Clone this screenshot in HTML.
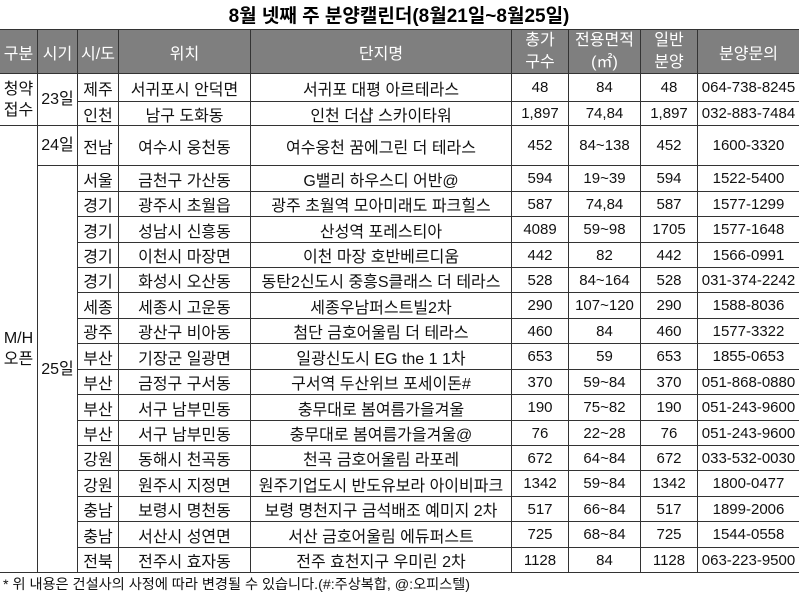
<!DOCTYPE html>
<html><head><meta charset="utf-8">
<style>
body{margin:0;background:#fff;}
#w{position:relative;width:800px;height:598px;overflow:hidden;background:#fff;font-family:"Liberation Sans","Noto Sans CJK KR",sans-serif;font-size:15px;color:#111;}
.t{position:absolute;left:0;top:0;width:798px;height:29px;display:flex;align-items:center;justify-content:center;font-weight:bold;font-size:19px;color:#000;white-space:nowrap;}
.hd{position:absolute;left:0;top:30px;width:799px;height:43px;background:#7f7f7f;color:#fff;font-size:16px;}
.r{position:absolute;left:0;width:800px;}
.r>div,.hd>div,.m{position:absolute;top:0;bottom:0;display:flex;align-items:center;justify-content:center;white-space:nowrap;text-align:center;}
.a{left:0;width:37px}
.b{left:38px;width:39px}
.c{left:78px;width:40px}
.d{left:119px;width:131px}
.e{left:251px;width:260px}
.f{left:512px;width:56px}
.g{left:569px;width:71px}
.h{left:641px;width:56px}
.i{left:698px;width:101px}
.r>.a,.r>.b,.r>.c,.r>.d,.r>.e,.m{font-size:16px}
.two{line-height:22px}
.m{line-height:21px}
.hl{position:absolute;height:1px;background:#333;}
.vl{position:absolute;width:1px;background:#333;top:29px;height:544px;}
.ft{position:absolute;left:3px;top:574px;height:20px;display:flex;align-items:center;font-size:14.2px;color:#111;white-space:nowrap;}
</style></head><body>
<div id="w">
<div class="t">8월 넷째 주 분양캘린더(8월21일~8월25일)</div>

<div class="hd">
<div class="a">구분</div><div class="b">시기</div><div class="c">시/도</div><div class="d">위치</div><div class="e">단지명</div>
<div class="f two">총가<br>구수</div><div class="g two">전용면적<br>(㎡)</div><div class="h two">일반<br>분양</div><div class="i">분양문의</div>
</div>

<div class="m a" style="top:74px;height:51px;bottom:auto;">청약<br>접수</div>
<div class="m b" style="top:74px;height:51px;bottom:auto;">23일</div>
<div class="m a" style="top:126px;height:446px;bottom:auto;">M/H<br>오픈</div>
<div class="m b" style="top:126px;height:39px;bottom:auto;">24일</div>
<div class="m b" style="top:166px;height:406px;bottom:auto;">25일</div>

<div class="r" style="top:74px;height:27px"><div class="c">제주</div><div class="d">서귀포시 안덕면</div><div class="e">서귀포 대평 아르테라스</div><div class="f">48</div><div class="g">84</div><div class="h">48</div><div class="i">064-738-8245</div></div>
<div class="r" style="top:102px;height:23px"><div class="c">인천</div><div class="d">남구 도화동</div><div class="e">인천 더샵 스카이타워</div><div class="f">1,897</div><div class="g">74,84</div><div class="h">1,897</div><div class="i">032-883-7484</div></div>
<div class="r" style="top:126px;height:39px"><div class="c">전남</div><div class="d">여수시 웅천동</div><div class="e">여수웅천 꿈에그린 더 테라스</div><div class="f">452</div><div class="g">84~138</div><div class="h">452</div><div class="i">1600-3320</div></div>
<div class="r" style="top:166px;height:25px"><div class="c">서울</div><div class="d">금천구 가산동</div><div class="e">G밸리 하우스디 어반@</div><div class="f">594</div><div class="g">19~39</div><div class="h">594</div><div class="i">1522-5400</div></div>
<div class="r" style="top:192px;height:24px"><div class="c">경기</div><div class="d">광주시 초월읍</div><div class="e">광주 초월역 모아미래도 파크힐스</div><div class="f">587</div><div class="g">74,84</div><div class="h">587</div><div class="i">1577-1299</div></div>
<div class="r" style="top:217px;height:25px"><div class="c">경기</div><div class="d">성남시 신흥동</div><div class="e">산성역 포레스티아</div><div class="f">4089</div><div class="g">59~98</div><div class="h">1705</div><div class="i">1577-1648</div></div>
<div class="r" style="top:243px;height:24px"><div class="c">경기</div><div class="d">이천시 마장면</div><div class="e">이천 마장 호반베르디움</div><div class="f">442</div><div class="g">82</div><div class="h">442</div><div class="i">1566-0991</div></div>
<div class="r" style="top:268px;height:24px"><div class="c">경기</div><div class="d">화성시 오산동</div><div class="e">동탄2신도시 중흥S클래스 더 테라스</div><div class="f">528</div><div class="g">84~164</div><div class="h">528</div><div class="i">031-374-2242</div></div>
<div class="r" style="top:293px;height:25px"><div class="c">세종</div><div class="d">세종시 고운동</div><div class="e">세종우남퍼스트빌2차</div><div class="f">290</div><div class="g">107~120</div><div class="h">290</div><div class="i">1588-8036</div></div>
<div class="r" style="top:319px;height:24px"><div class="c">광주</div><div class="d">광산구 비아동</div><div class="e">첨단 금호어울림 더 테라스</div><div class="f">460</div><div class="g">84</div><div class="h">460</div><div class="i">1577-3322</div></div>
<div class="r" style="top:344px;height:25px"><div class="c">부산</div><div class="d">기장군 일광면</div><div class="e">일광신도시 EG the 1 1차</div><div class="f">653</div><div class="g">59</div><div class="h">653</div><div class="i">1855-0653</div></div>
<div class="r" style="top:370px;height:24px"><div class="c">부산</div><div class="d">금정구 구서동</div><div class="e">구서역 두산위브 포세이돈#</div><div class="f">370</div><div class="g">59~84</div><div class="h">370</div><div class="i">051-868-0880</div></div>
<div class="r" style="top:395px;height:25px"><div class="c">부산</div><div class="d">서구 남부민동</div><div class="e">충무대로 봄여름가을겨울</div><div class="f">190</div><div class="g">75~82</div><div class="h">190</div><div class="i">051-243-9600</div></div>
<div class="r" style="top:421px;height:24px"><div class="c">부산</div><div class="d">서구 남부민동</div><div class="e">충무대로 봄여름가을겨울@</div><div class="f">76</div><div class="g">22~28</div><div class="h">76</div><div class="i">051-243-9600</div></div>
<div class="r" style="top:446px;height:24px"><div class="c">강원</div><div class="d">동해시 천곡동</div><div class="e">천곡 금호어울림 라포레</div><div class="f">672</div><div class="g">64~84</div><div class="h">672</div><div class="i">033-532-0030</div></div>
<div class="r" style="top:471px;height:25px"><div class="c">강원</div><div class="d">원주시 지정면</div><div class="e">원주기업도시 반도유보라 아이비파크</div><div class="f">1342</div><div class="g">59~84</div><div class="h">1342</div><div class="i">1800-0477</div></div>
<div class="r" style="top:497px;height:24px"><div class="c">충남</div><div class="d">보령시 명천동</div><div class="e">보령 명천지구 금석배조 예미지 2차</div><div class="f">517</div><div class="g">66~84</div><div class="h">517</div><div class="i">1899-2006</div></div>
<div class="r" style="top:522px;height:25px"><div class="c">충남</div><div class="d">서산시 성연면</div><div class="e">서산 금호어울림 에듀퍼스트</div><div class="f">725</div><div class="g">68~84</div><div class="h">725</div><div class="i">1544-0558</div></div>
<div class="r" style="top:548px;height:24px"><div class="c">전북</div><div class="d">전주시 효자동</div><div class="e">전주 효천지구 우미린 2차</div><div class="f">1128</div><div class="g">84</div><div class="h">1128</div><div class="i">063-223-9500</div></div>

<div class="hl" style="top:29px;left:0;width:799px"></div>
<div class="hl" style="top:73px;left:0;width:799px"></div>
<div class="hl" style="top:101px;left:77px;width:722px"></div>
<div class="hl" style="top:125px;left:0;width:799px"></div>
<div class="hl" style="top:165px;left:37px;width:762px"></div>
<div class="hl" style="top:191px;left:77px;width:722px"></div>
<div class="hl" style="top:216px;left:77px;width:722px"></div>
<div class="hl" style="top:242px;left:77px;width:722px"></div>
<div class="hl" style="top:267px;left:77px;width:722px"></div>
<div class="hl" style="top:292px;left:77px;width:722px"></div>
<div class="hl" style="top:318px;left:77px;width:722px"></div>
<div class="hl" style="top:343px;left:77px;width:722px"></div>
<div class="hl" style="top:369px;left:77px;width:722px"></div>
<div class="hl" style="top:394px;left:77px;width:722px"></div>
<div class="hl" style="top:420px;left:77px;width:722px"></div>
<div class="hl" style="top:445px;left:77px;width:722px"></div>
<div class="hl" style="top:470px;left:77px;width:722px"></div>
<div class="hl" style="top:496px;left:77px;width:722px"></div>
<div class="hl" style="top:521px;left:77px;width:722px"></div>
<div class="hl" style="top:547px;left:77px;width:722px"></div>
<div class="hl" style="top:572px;left:0;width:799px"></div>

<div class="vl" style="left:37px"></div>
<div class="vl" style="left:77px"></div>
<div class="vl" style="left:118px"></div>
<div class="vl" style="left:250px"></div>
<div class="vl" style="left:511px"></div>
<div class="vl" style="left:568px"></div>
<div class="vl" style="left:640px"></div>
<div class="vl" style="left:697px"></div>

<div class="ft">* 위 내용은 건설사의 사정에 따라 변경될 수 있습니다.(#:주상복합, @:오피스텔)</div>
</div>
</body></html>
